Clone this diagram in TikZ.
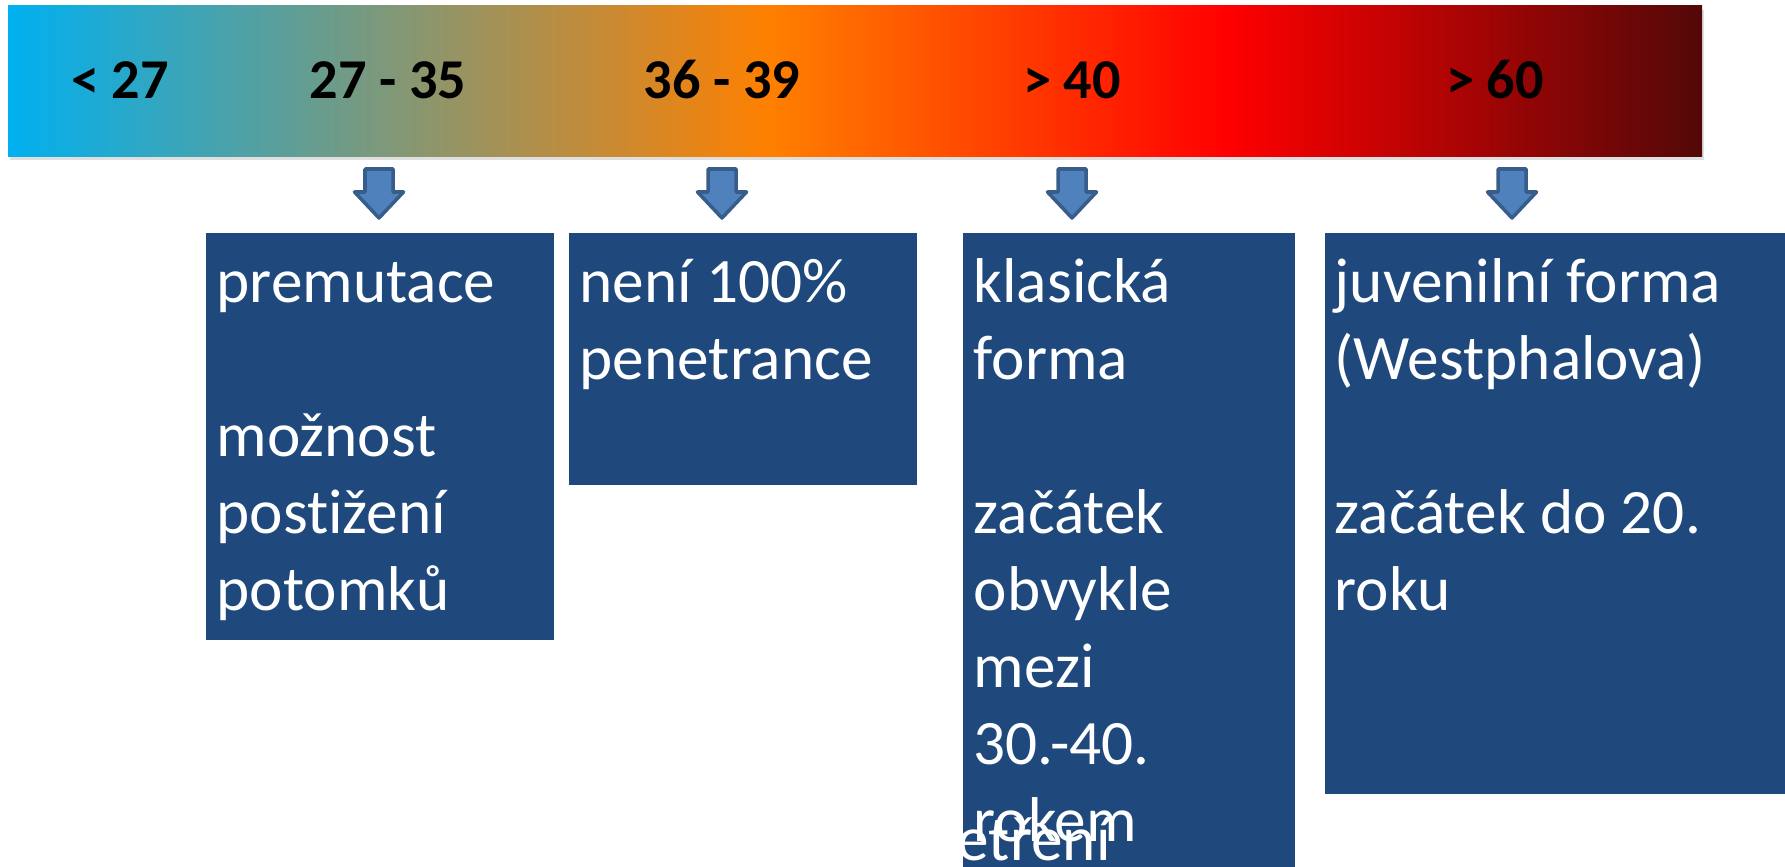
\documentclass[tikz,border=0pt]{standalone}
\usepackage{fontspec}
\setmainfont{Carlito}[Ligatures=NoCommon]
\usepackage{tikz}
\usetikzlibrary{shadows}
\definecolor{mycyan}{RGB}{0,176,240}
\definecolor{myorange}{RGB}{255,128,0}
\definecolor{myred}{RGB}{255,0,0}
\definecolor{mydark}{RGB}{82,8,8}
\definecolor{myblue}{RGB}{31,73,125}
\definecolor{myarrow}{RGB}{79,129,189}
\definecolor{myedge}{RGB}{56,93,138}
\pgfdeclarehorizontalshading{barshade}{100bp}{color(0bp)=(mycyan); color(25bp)=(mycyan); color(47.5bp)=(myorange); color(61bp)=(myred); color(75bp)=(mydark); color(100bp)=(mydark)}

\tikzset{
  agelabel/.style={font=\fontsize{16}{19}\selectfont\bfseries, inner sep=0pt},
  box/.style={fill=myblue, anchor=north west, inner sep=0pt},
  boxline/.style={text=white, anchor=base west, inner sep=0pt, font=\fontsize{18}{22}\selectfont},
  blockarrow/.style={fill=myarrow, draw=myedge, line width=1pt, line join=round}
}

\begin{document}
\begin{tikzpicture}

\useasboundingbox (0,0) rectangle (17.85,-8.66);

% bar
\shade[shading=barshade, drop shadow={shadow xshift=0.02, shadow yshift=-0.04, opacity=0.25}]
  (0.08,-0.06) rectangle (17.02,-1.56);

\foreach \x/\t [count=\i] in {1.20/{< 27}, 3.88/{27 - 35}, 7.22/{36 - 39}, 10.72/{> 40}, 14.95/{> 60}}{
  \node[agelabel] (r\i) at (\x,-0.80) {\t};
}

% arrows
\foreach \x in {3.79,7.22,10.72,15.12}{
  \draw[blockarrow] (\x-0.14,-1.69) -- (\x+0.14,-1.69) -- (\x+0.14,-1.92) -- (\x+0.245,-1.92)
    -- (\x,-2.18) -- (\x-0.245,-1.92) -- (\x-0.14,-1.92) -- cycle;
}

% boxes
\node[box, minimum width=3.48cm, minimum height=4.07cm] (b1) at (2.05,-2.32) {};
\node[box, minimum width=3.48cm, minimum height=2.52cm] (b2) at (5.68,-2.32) {};
\node[box, minimum width=3.32cm, minimum height=6.50cm] (b3) at (9.62,-2.32) {};
\node[box, minimum width=4.70cm, minimum height=5.61cm] (b4) at (13.24,-2.32) {};

\foreach \j/\t in {1/premutace,3/možnost,4/postižení,5/potomků}{
  \node[boxline] (p\j) at (2.16,{-3.02-0.77*(\j-1)}) {\t};
}
\foreach \j/\t in {1/není 100\%,2/penetrance}{
  \node[boxline] (n\j) at (5.79,{-3.02-0.77*(\j-1)}) {\t};
}
\foreach \j/\t in {1/klasická,2/forma,4/začátek,5/obvykle,6/mezi,7/30.-40.,8/rokem}{
  \node[boxline] (k\j) at (9.73,{-3.02-0.77*(\j-1)}) {\t};
}
\foreach \j/\t in {1/juvenilní forma,2/(Westphalova),4/začátek do 20.,5/roku}{
  \node[boxline] (j\j) at (13.34,{-3.02-0.77*(\j-1)}) {\t};
}

\node[boxline] (tail) at (9.57,-8.60) {etření};

\end{tikzpicture}
\end{document}
